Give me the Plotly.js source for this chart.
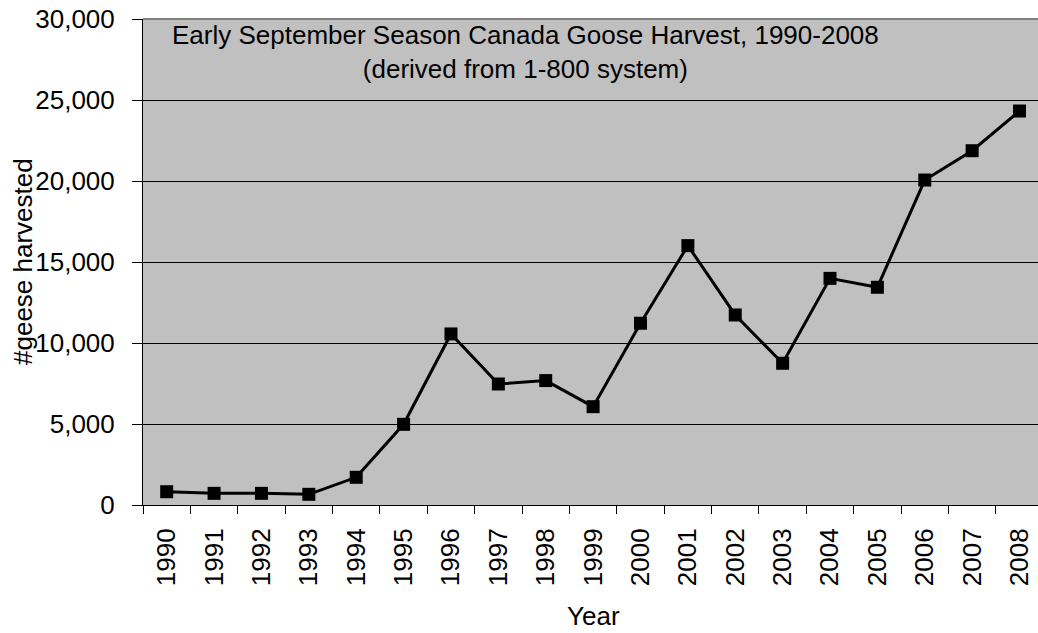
<!DOCTYPE html>
<html>
<head>
<meta charset="utf-8">
<script src="https://cdn.plot.ly/plotly-3.0.1.min.js"></script>
<style>
  html, body { margin: 0; padding: 0; background: #ffffff; overflow: hidden; }
  #chart { width: 1038px; height: 633px; }
</style>
</head>
<body>
<div id="chart"></div>
<script>
const years = ["1990","1991","1992","1993","1994","1995","1996","1997","1998","1999",
               "2000","2001","2002","2003","2004","2005","2006","2007","2008"];
const geeseHarvested = [820, 720, 720, 660, 1710, 4980, 10560, 7470, 7680, 6070,
                        11220, 16010, 11730, 8750, 13990, 13440, 20060, 21870, 24320];
const yTickValues = [0, 5000, 10000, 15000, 20000, 25000, 30000];
const chartTitle = "Early September Season Canada Goose Harvest, 1990-2008<br>(derived from 1-800 system)";
const xTitle = "Year";
const yTitle = "#geese harvested";

const FONT = "Liberation Sans, Arial, Helvetica, sans-serif";

const trace = {
  x: years,
  y: geeseHarvested,
  type: "scatter",
  mode: "lines+markers",
  line: { color: "#000000", width: 3 },
  marker: { symbol: "square", size: 13, color: "#000000" },
  hoverinfo: "x+y"
};

const layout = {
  width: 1038,
  height: 633,
  margin: { l: 143, r: 0, t: 19, b: 128, pad: 0 },
  paper_bgcolor: "#ffffff",
  plot_bgcolor: "#c0c0c0",
  showlegend: false,
  font: { family: FONT, size: 26, color: "#000000" },
  xaxis: {
    type: "category",
    range: [-0.5, 18.39],
    tickson: "boundaries",
    ticks: "outside",
    ticklen: 8,
    tickwidth: 1,
    tickcolor: "#000000",
    tickangle: -90,
    ticklabelstandoff: 12,
    tickfont: { family: FONT, size: 26, color: "#000000" },
    showgrid: false,
    showline: true,
    linecolor: "#000000",
    linewidth: 1,
    zeroline: false,
    fixedrange: true
  },
  yaxis: {
    range: [0, 30000],
    tickmode: "array",
    tickvals: yTickValues,
    tickformat: ",d",
    ticks: "outside",
    ticklen: 10,
    tickwidth: 1,
    tickcolor: "#000000",
    ticklabelstandoff: 12,
    tickfont: { family: FONT, size: 26, color: "#000000" },
    showgrid: true,
    gridcolor: "#000000",
    gridwidth: 1,
    showline: true,
    linecolor: "#000000",
    linewidth: 1,
    zeroline: false,
    fixedrange: true
  },
  shapes: [
    { type: "line", xref: "paper", yref: "paper", x0: 0, x1: 1, y0: 1, y1: 1,
      line: { color: "#808080", width: 2 } }
  ],
  annotations: [
    { text: chartTitle, xref: "paper", yref: "paper",
      x: (525 - 143) / 895, y: 1, xanchor: "center", yanchor: "top", yshift: 1,
      showarrow: false, align: "center",
      font: { family: FONT, size: 26, color: "#000000" } },
    { text: yTitle, xref: "paper", yref: "paper",
      x: 0, xshift: -120, y: 0.5, xanchor: "center", yanchor: "middle",
      textangle: -90, showarrow: false,
      font: { family: FONT, size: 26, color: "#000000" } },
    { text: xTitle, xref: "paper", yref: "paper",
      x: (593 - 143) / 895, y: 0, yshift: -111, xanchor: "center", yanchor: "middle",
      showarrow: false,
      font: { family: FONT, size: 26, color: "#000000" } }
  ]
};

Plotly.newPlot("chart", [trace], layout, { displayModeBar: false });
</script>
</body>
</html>
